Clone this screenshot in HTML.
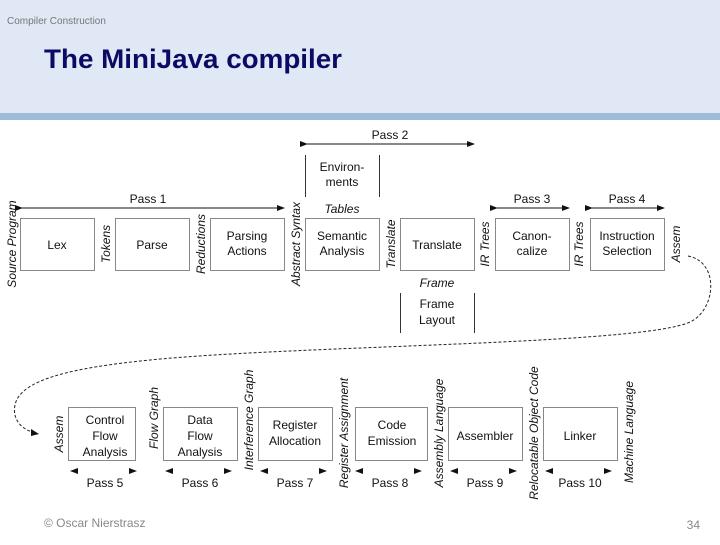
<!DOCTYPE html>
<html><head><meta charset="utf-8"><style>
body{margin:0;width:720px;height:540px;overflow:hidden;background:#fff;font-family:"Liberation Sans",sans-serif}
</style></head><body>
<svg width="720" height="540" xmlns="http://www.w3.org/2000/svg" font-family="Liberation Sans, sans-serif">
<defs><marker id="a" markerWidth="8" markerHeight="6" refX="7" refY="3" orient="auto" markerUnits="userSpaceOnUse"><path d="M0,0 L8,3 L0,6z" fill="#111"/></marker></defs>
<rect x="0" y="0" width="720" height="113" fill="#dfe8f4"/>
<rect x="0" y="113" width="720" height="7" fill="#9dbcd8"/>
<text x="7" y="24" font-size="10" fill="#777">Compiler Construction</text>
<text x="44" y="68" font-size="27" font-weight="bold" fill="#0b0b66" textLength="298" lengthAdjust="spacingAndGlyphs">The MiniJava compiler</text>
<text x="44" y="527" font-size="12" fill="#888">© Oscar Nierstrasz</text>
<text x="700" y="529" font-size="12" fill="#888" text-anchor="end">34</text>
<g fill="none" stroke="#888" stroke-width="1">
<rect x="20.5" y="218.5" width="74" height="52"/>
<rect x="115.5" y="218.5" width="74" height="52"/>
<rect x="210.5" y="218.5" width="74" height="52"/>
<rect x="305.5" y="218.5" width="74" height="52"/>
<rect x="400.5" y="218.5" width="74" height="52"/>
<rect x="495.5" y="218.5" width="74" height="52"/>
<rect x="590.5" y="218.5" width="74" height="52"/>
<path d="M305.5 155V197M379.5 155V197M400.5 293V333M474.5 293V333" stroke="#333"/>
<rect x="68.5" y="407.5" width="67" height="53"/>
<rect x="163.5" y="407.5" width="74" height="53"/>
<rect x="258.5" y="407.5" width="74" height="53"/>
<rect x="355.5" y="407.5" width="72" height="53"/>
<rect x="448.5" y="407.5" width="74" height="53"/>
<rect x="543.5" y="407.5" width="74" height="53"/>
</g>
<g stroke="#111" stroke-width="1" marker-end="url(#a)" marker-start="url(#a)" fill="none">
<path d="M22 208H284"/><path d="M307 144H474"/><path d="M497 208H569"/><path d="M592 208H664"/>
</g>
<g fill="#111">
<path d="M70 471l8-3v6z M137 471l-8-3v6z M165 471l8-3v6z M232 471l-8-3v6z M260 471l8-3v6z M327 471l-8-3v6z M355 471l8-3v6z M422 471l-8-3v6z M450 471l8-3v6z M517 471l-8-3v6z M545 471l8-3v6z M612 471l-8-3v6z"/>
</g>
<g font-size="12" fill="#111" text-anchor="middle">
<text x="148" y="203">Pass 1</text><text x="390" y="139">Pass 2</text><text x="532" y="203">Pass 3</text><text x="627" y="203">Pass 4</text>
<text x="57" y="249">Lex</text><text x="152" y="249">Parse</text>
<text x="247" y="240">Parsing</text><text x="247" y="255">Actions</text>
<text x="342" y="240">Semantic</text><text x="342" y="255">Analysis</text>
<text x="437" y="249">Translate</text>
<text x="532" y="240">Canon-</text><text x="532" y="255">calize</text>
<text x="627" y="240">Instruction</text><text x="627" y="255">Selection</text>
<text x="342" y="171">Environ-</text><text x="342" y="186">ments</text>
<text x="342" y="213" font-style="italic">Tables</text>
<text x="437" y="287" font-style="italic">Frame</text>
<text x="437" y="308">Frame</text><text x="437" y="324">Layout</text>
<text x="105" y="424">Control</text><text x="105" y="440">Flow</text><text x="105" y="456">Analysis</text>
<text x="200" y="424">Data</text><text x="200" y="440">Flow</text><text x="200" y="456">Analysis</text>
<text x="295" y="429">Register</text><text x="295" y="445">Allocation</text>
<text x="392" y="429">Code</text><text x="392" y="445">Emission</text>
<text x="485" y="440">Assembler</text><text x="580" y="440">Linker</text>
<text x="105" y="487">Pass 5</text><text x="200" y="487">Pass 6</text><text x="295" y="487">Pass 7</text><text x="390" y="487">Pass 8</text><text x="485" y="487">Pass 9</text><text x="580" y="487">Pass 10</text>
</g>
<g font-size="12" fill="#111" font-style="italic" text-anchor="middle">
<text transform="translate(16,244) rotate(-90)">Source Program</text>
<text transform="translate(110,244) rotate(-90)">Tokens</text>
<text transform="translate(205,244) rotate(-90)">Reductions</text>
<text transform="translate(300,244) rotate(-90)">Abstract Syntax</text>
<text transform="translate(395,244) rotate(-90)">Translate</text>
<text transform="translate(489,244) rotate(-90)">IR Trees</text>
<text transform="translate(583,244) rotate(-90)">IR Trees</text>
<text transform="translate(680,244) rotate(-90)">Assem</text>
<text transform="translate(63,434) rotate(-90)">Assem</text>
<text transform="translate(158,418) rotate(-90)">Flow Graph</text>
<text transform="translate(253,420) rotate(-90)">Interference Graph</text>
<text transform="translate(348,433) rotate(-90)">Register Assignment</text>
<text transform="translate(443,433) rotate(-90)">Assembly Language</text>
<text transform="translate(538,433) rotate(-90)">Relocatable Object Code</text>
<text transform="translate(633,432) rotate(-90)">Machine Language</text>
</g>
<path d="M688 256 C720 262,716 310,690 322 C640 345,300 345,150 360 C70 368,20 380,15 405 C12 420,22 430,36 433" fill="none" stroke="#222" stroke-width="1" stroke-dasharray="3,2"/>
<path d="M39 434l-8-5v7z" fill="#111"/>
</svg>
</body></html>
